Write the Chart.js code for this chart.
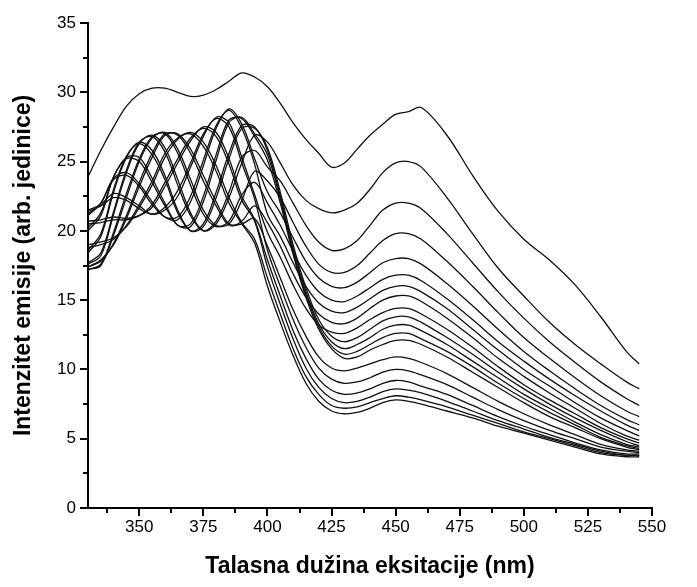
<!DOCTYPE html>
<html>
<head>
<meta charset="utf-8">
<script src="https://cdn.jsdelivr.net/npm/chart.js@4.4.1/dist/chart.umd.min.js"></script>
<style>
  html, body { margin: 0; padding: 0; background: #fff; }
</style>
</head>
<body>
<canvas id="spektri" width="697" height="587"></canvas>
<script>
// talasne duzine ekscitacije (nm)
const talasneDuzine = [330, 335, 340, 345, 350, 355, 360, 365, 370, 375, 380, 385, 390, 395,
  400, 405, 410, 415, 420, 425, 430, 435, 440, 445, 450, 455, 460,
  470, 480, 490, 500, 510, 520, 530, 540, 545];

// gornja (odvojena) kriva
const gornjaKriva = [23.9, 25.8, 27.5, 29.0, 29.9, 30.3, 30.3, 30.0, 29.7, 29.8, 30.2, 30.8, 31.4, 31.1,
  30.4, 29.2, 27.8, 26.6, 25.6, 24.6, 24.9, 25.9, 26.9, 27.7, 28.4, 28.6, 28.9,
  26.9, 24.0, 21.4, 19.4, 17.9, 16.1, 13.8, 11.3, 10.4];

// ostale krive, od najvise do najnize kod 450 nm
const kriva01 = [17.6, 18.2, 21.2, 24.2, 26.3, 26.9, 26.0, 23.7, 21.3, 20.0, 20.5, 22.4, 24.9, 26.9,
  26.4, 24.9, 23.3, 22.2, 21.6, 21.3, 21.5, 22.0, 23.0, 24.2, 24.9, 25.0, 24.6,
  22.4, 19.8, 17.3, 15.3, 13.4, 11.8, 10.4, 9.1, 8.6];
const kriva02 = [17.7, 18.4, 21.4, 24.4, 26.4, 26.8, 25.7, 23.3, 21.1, 20.0, 20.7, 22.8, 25.3, 25.8,
  24.6, 23.6, 22.0, 20.4, 19.2, 18.6, 18.7, 19.3, 20.4, 21.5, 22.0, 22.0, 21.6,
  19.8, 17.7, 15.6, 13.7, 12.0, 10.5, 9.1, 7.9, 7.4];
const kriva03 = [17.2, 17.5, 19.7, 22.4, 25.0, 26.7, 27.1, 25.9, 23.7, 21.5, 20.4, 20.5, 22.2, 24.3,
  23.6, 22.4, 20.6, 18.9, 17.6, 17.0, 17.0, 17.5, 18.4, 19.3, 19.8, 19.8, 19.4,
  17.8, 16.0, 14.1, 12.3, 10.8, 9.4, 8.1, 7.0, 6.6];
const kriva04 = [21.1, 22.0, 23.8, 24.2, 23.4, 22.1, 21.0, 20.8, 22.1, 24.7, 27.4, 28.8, 27.7, 25.2,
  22.8, 21.3, 19.5, 17.8, 16.6, 16.0, 15.9, 16.3, 17.0, 17.7, 18.0, 18.0, 17.6,
  16.2, 14.6, 12.9, 11.3, 9.9, 8.6, 7.4, 6.4, 6.0];
const kriva05 = [17.2, 17.6, 19.9, 22.7, 25.2, 26.8, 27.0, 25.6, 23.3, 21.2, 20.3, 20.7, 22.6, 23.5,
  22.0, 20.4, 18.5, 16.8, 15.6, 15.0, 14.9, 15.3, 15.9, 16.5, 16.8, 16.8, 16.4,
  15.1, 13.6, 12.0, 10.6, 9.3, 8.1, 7.0, 6.0, 5.6];
const kriva06 = [21.2, 22.0, 23.7, 24.0, 23.2, 21.9, 21.0, 21.0, 22.5, 25.1, 27.6, 28.7, 27.4, 24.8,
  21.2, 19.6, 17.7, 16.0, 14.8, 14.2, 14.1, 14.5, 15.1, 15.7, 16.0, 16.0, 15.6,
  14.4, 12.9, 11.4, 10.0, 8.8, 7.6, 6.5, 5.6, 5.2];
const kriva07 = [17.4, 17.8, 19.1, 21.1, 23.5, 25.6, 27.0, 26.9, 25.6, 23.6, 21.8, 20.4, 20.7, 21.8,
  20.6, 18.9, 16.9, 15.2, 14.0, 13.4, 13.3, 13.7, 14.4, 15.0, 15.3, 15.3, 14.9,
  13.7, 12.3, 10.8, 9.5, 8.3, 7.2, 6.1, 5.2, 4.9];
const kriva08 = [21.5, 21.9, 22.7, 22.4, 21.8, 21.2, 21.5, 22.5, 24.6, 26.8, 28.2, 27.8, 25.3, 22.6,
  19.9, 18.1, 16.1, 14.4, 13.2, 12.7, 12.6, 13.0, 13.6, 14.1, 14.4, 14.4, 14.0,
  12.9, 11.6, 10.2, 8.9, 7.8, 6.8, 5.8, 5.0, 4.7];
const kriva09 = [18.4, 19.6, 22.8, 25.3, 26.4, 25.8, 24.0, 21.5, 20.0, 20.3, 22.4, 25.2, 27.4, 27.4,
  26.0, 22.8, 19.0, 15.9, 13.6, 12.4, 12.0, 12.3, 12.9, 13.5, 13.8, 13.8, 13.4,
  12.3, 11.1, 9.8, 8.6, 7.5, 6.5, 5.6, 4.8, 4.5];
const kriva10 = [18.6, 19.8, 23.0, 25.4, 26.3, 25.5, 23.7, 21.3, 20.0, 20.5, 22.8, 25.6, 27.6, 27.5,
  25.8, 22.5, 18.7, 15.6, 13.3, 12.0, 11.5, 11.8, 12.3, 12.9, 13.2, 13.2, 12.8,
  11.8, 10.6, 9.4, 8.2, 7.2, 6.2, 5.3, 4.6, 4.4];
const kriva11 = [20.0, 21.1, 23.9, 25.3, 25.3, 23.8, 22.0, 20.4, 20.3, 22.1, 25.1, 27.8, 28.2, 27.0,
  25.5, 22.3, 18.5, 15.4, 13.1, 11.7, 11.1, 11.3, 11.8, 12.3, 12.6, 12.6, 12.2,
  11.3, 10.2, 9.0, 7.9, 6.9, 6.0, 5.1, 4.5, 4.3];
const kriva12 = [20.2, 21.3, 23.9, 25.2, 25.0, 23.5, 21.8, 20.4, 20.5, 22.5, 25.5, 28.0, 28.1, 26.8,
  25.1, 22.0, 18.3, 15.2, 12.9, 11.5, 10.8, 10.9, 11.4, 11.8, 12.1, 12.1, 11.8,
  10.9, 9.8, 8.7, 7.6, 6.6, 5.8, 5.0, 4.4, 4.2];
const kriva13 = [17.4, 17.9, 19.0, 20.9, 23.2, 25.3, 26.9, 27.0, 25.9, 24.0, 22.1, 20.5, 20.5, 20.9,
  18.9, 16.6, 14.3, 12.4, 10.9, 10.1, 9.9, 10.1, 10.4, 10.7, 10.9, 10.8, 10.5,
  9.7, 8.7, 7.7, 6.8, 6.0, 5.3, 4.6, 4.2, 4.1];
const kriva14 = [21.4, 21.8, 22.4, 22.2, 21.6, 21.2, 21.7, 22.9, 24.9, 27.0, 28.1, 27.5, 24.9, 22.3,
  18.6, 16.0, 13.6, 11.6, 10.1, 9.3, 9.0, 9.1, 9.4, 9.8, 10.0, 9.9, 9.6,
  8.9, 8.0, 7.1, 6.3, 5.6, 5.0, 4.4, 4.1, 4.0];
const kriva15 = [20.7, 20.8, 21.0, 20.9, 21.1, 21.7, 23.2, 24.9, 26.5, 27.5, 27.1, 25.2, 22.5, 20.8,
  17.9, 15.3, 12.8, 10.8, 9.3, 8.5, 8.2, 8.3, 8.6, 9.0, 9.2, 9.1, 8.8,
  8.2, 7.4, 6.6, 5.9, 5.3, 4.7, 4.2, 3.9, 3.9];
const kriva16 = [20.5, 20.6, 20.8, 20.8, 21.1, 21.9, 23.5, 25.2, 26.7, 27.4, 26.8, 24.8, 22.2, 20.7,
  17.4, 14.7, 12.2, 10.1, 8.7, 7.9, 7.6, 7.7, 8.0, 8.4, 8.6, 8.5, 8.3,
  7.7, 7.0, 6.3, 5.7, 5.1, 4.6, 4.1, 3.8, 3.8];
const kriva17 = [19.0, 19.2, 19.5, 20.3, 21.7, 23.3, 25.3, 26.6, 27.1, 26.4, 24.7, 22.4, 20.6, 19.4,
  16.6, 14.0, 11.5, 9.5, 8.2, 7.4, 7.2, 7.3, 7.6, 7.9, 8.1, 8.0, 7.8,
  7.3, 6.7, 6.1, 5.5, 5.0, 4.5, 4.0, 3.8, 3.8];
const kriva18 = [18.8, 19.0, 19.4, 20.4, 21.9, 23.6, 25.6, 26.7, 27.0, 26.1, 24.3, 22.0, 20.5, 19.1,
  16.0, 13.4, 11.0, 9.0, 7.7, 7.0, 6.8, 6.9, 7.2, 7.6, 7.8, 7.7, 7.5,
  7.0, 6.5, 5.9, 5.4, 4.9, 4.4, 3.9, 3.7, 3.7];

const sveKrive = [gornjaKriva, kriva01, kriva02, kriva03, kriva04, kriva05, kriva06, kriva07, kriva08, kriva09,
  kriva10, kriva11, kriva12, kriva13, kriva14, kriva15, kriva16, kriva17, kriva18];

// oznake na osama
const xOznake = [350, 375, 400, 425, 450, 475, 500, 525, 550];
const xSitne = [337.5, 362.5, 387.5, 412.5, 437.5, 462.5, 487.5, 512.5, 537.5];
const yOznake = [0, 5, 10, 15, 20, 25, 30, 35];
const ySitne = [2.5, 7.5, 12.5, 17.5, 22.5, 27.5, 32.5];

const fontTick = { family: '"Liberation Sans", Arial, sans-serif', size: 17 };
const fontNaslov = { family: '"Liberation Sans", Arial, sans-serif', size: 23, weight: 'bold' };

// crtice na osama (glavne i sitne)
const crtice = {
  id: 'crtice',
  afterDraw(chart) {
    const { ctx, chartArea, scales: { x, y } } = chart;
    ctx.save();
    ctx.strokeStyle = '#000';
    ctx.lineWidth = 2;
    ctx.beginPath();
    xOznake.forEach(v => {
      const px = Math.round(x.getPixelForValue(v));
      ctx.moveTo(px, chartArea.bottom);
      ctx.lineTo(px, chartArea.bottom + 8);
    });
    xSitne.forEach(v => {
      const px = Math.round(x.getPixelForValue(v));
      ctx.moveTo(px, chartArea.bottom);
      ctx.lineTo(px, chartArea.bottom + 5);
    });
    yOznake.forEach(v => {
      const py = Math.round(y.getPixelForValue(v));
      ctx.moveTo(chartArea.left, py);
      ctx.lineTo(chartArea.left - 8, py);
    });
    ySitne.forEach(v => {
      const py = Math.round(y.getPixelForValue(v));
      ctx.moveTo(chartArea.left, py);
      ctx.lineTo(chartArea.left - 5, py);
    });
    ctx.stroke();
    ctx.restore();
  }
};

const datasets = sveKrive.map(niz => ({
  data: talasneDuzine.map((x, i) => ({ x, y: niz[i] })),
  borderColor: '#111',
  borderWidth: 1.3,
  pointRadius: 0,
  tension: 0.35,
  fill: false
}));

new Chart(document.getElementById('spektri'), {
  type: 'line',
  data: { datasets },
  plugins: [crtice],
  options: {
    responsive: false,
    animation: false,
    devicePixelRatio: 1,
    layout: { padding: { top: 23, right: 45, bottom: 0, left: 0 } },
    plugins: { legend: { display: false }, tooltip: { enabled: false } },
    scales: {
      x: {
        type: 'linear',
        min: 330,
        max: 550,
        afterBuildTicks: axis => { axis.ticks = xOznake.map(v => ({ value: v })); },
        afterFit: axis => { axis.height = 79; },
        grid: { display: false, drawTicks: false },
        border: { display: true, color: '#000', width: 2 },
        ticks: { padding: 9, color: '#000', font: fontTick, autoSkip: false, maxRotation: 0 },
        title: { display: true, text: 'Talasna dužina eksitacije (nm)', color: '#000', font: fontNaslov, padding: { top: 0, bottom: 7 } }
      },
      y: {
        min: 0,
        max: 35,
        afterBuildTicks: axis => { axis.ticks = yOznake.map(v => ({ value: v })); },
        afterFit: axis => { axis.width = 88; },
        grid: { display: false, drawTicks: false },
        border: { display: true, color: '#000', width: 2 },
        ticks: { padding: 12, color: '#000', font: fontTick },
        title: { display: true, text: 'Intenzitet emisije (arb. jedinice)', color: '#000', font: fontNaslov, padding: { top: 10, bottom: 0 } }
      }
    }
  }
});
</script>
</body>
</html>
